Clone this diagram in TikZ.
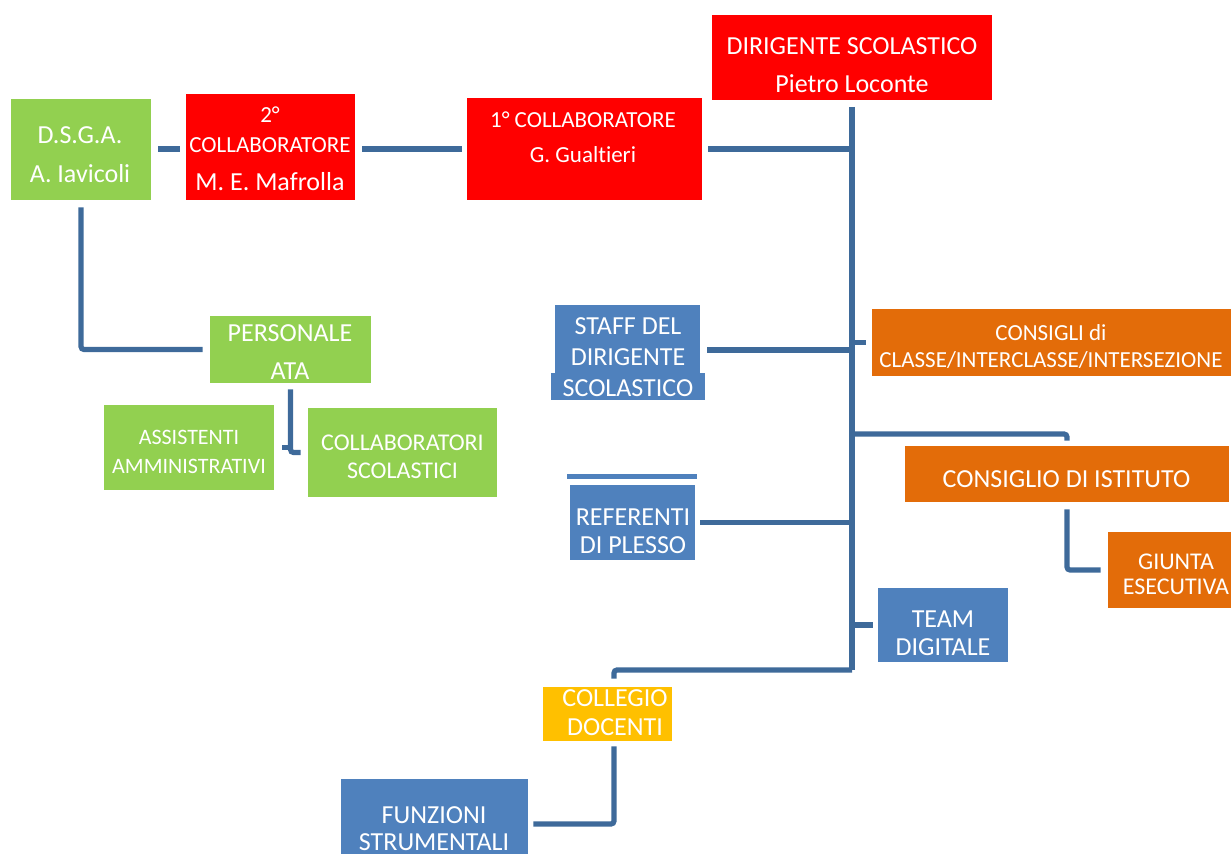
\documentclass[tikz,border=0pt]{standalone}
\usepackage{fontspec}
\setmainfont[Ligatures=NoCommon]{Carlito}
\usetikzlibrary{positioning,calc}
\definecolor{dsred}{HTML}{FF0000}
\definecolor{dsgreen}{HTML}{92D050}
\definecolor{dsblue}{HTML}{4F81BD}
\definecolor{dsorange}{HTML}{E36C09}
\definecolor{dsyellow}{HTML}{FFC000}
\definecolor{linkblue}{HTML}{3E6A9A}

\begin{document}
\begin{tikzpicture}[
  x=0.5pt, y=-0.5pt,
  box/.style={rectangle, inner sep=0pt},
  txt/.style={text=white, align=center, inner sep=0pt},
  big/.style={font=\fontsize{13}{#1}\selectfont},
  small/.style={font=\fontsize{11.5}{#1}\selectfont},
  link/.style={draw=linkblue, line width=2.6pt, rounded corners=1.5pt}
]
\useasboundingbox (0,0) rectangle (1231,854);

% ---------- Top row ----------
\node[box, fill=dsred, minimum width=140pt, minimum height=42.5pt] (dir) at (852,57.5) {};
\node[txt, big=19pt] (dirT) at (852,65) {DIRIGENTE SCOLASTICO\\Pietro Loconte};

\node[box, fill=dsred, minimum width=117.5pt, minimum height=51pt] (col1) at (584.5,149) {};
\node[txt, small=17.5pt] (col1T) at (583,137.5) {1° COLLABORATORE\\G. Gualtieri};

\node[box, fill=dsred, minimum width=84.5pt, minimum height=53pt] (col2) at (270.5,147) {};
\node[txt, small=15pt] (col2T) at (270,149) {2°\\COLLABORATORE\\[4pt]{\fontsize{13}{19}\selectfont M. E. Mafrolla}};

\node[box, fill=dsgreen, minimum width=70pt, minimum height=50.5pt] (dsga) at (81,149.5) {};
\node[txt, big=19.5pt] (dsgaT) at (80,154.5) {D.S.G.A.\\A. Iavicoli};

% ---------- ATA ----------
\node[box, fill=dsgreen, minimum width=80.5pt, minimum height=33.5pt] (ata) at (290.5,349.5) {};
\node[txt, big=19pt] (ataT) at (290,352) {PERSONALE\\ATA};

\node[box, fill=dsgreen, minimum width=85pt, minimum height=42.5pt] (ass) at (189,447.5) {};
\node[txt, font=\fontsize{11}{14.5}\selectfont] (assT) at (189,451.5) {ASSISTENTI\\AMMINISTRATIVI};

\node[box, fill=dsgreen, minimum width=94.5pt, minimum height=44.5pt] (cols) at (402.5,452.5) {};
\node[txt, font=\fontsize{12}{14}\selectfont] (colsT) at (402.5,457) {COLLABORATORI\\SCOLASTICI};

% ---------- Staff, referenti, team ----------
\node[box, fill=dsblue, minimum width=72.5pt, minimum height=37.5pt] (staff) at (627.5,342.5) {};
\node[box, fill=dsblue, minimum width=77pt, minimum height=13.5pt] (staffB) at (628,386.5) {};
\node[txt, big=15.5pt] (staffT) at (628,357) {STAFF DEL\\DIRIGENTE\\SCOLASTICO};

\node[box, fill=dsblue, minimum width=65pt, minimum height=2.6pt] (refBar) at (632,476.5) {};
\node[box, fill=dsblue, minimum width=62.5pt, minimum height=37.5pt] (ref) at (632.5,522.5) {};
\node[txt, big=14pt] (refT) at (633,531) {REFERENTI\\DI PLESSO};

\node[box, fill=dsblue, minimum width=65pt, minimum height=37pt] (team) at (943,625) {};
\node[txt, big=14pt] (teamT) at (943,633) {TEAM\\DIGITALE};

% ---------- Organi collegiali ----------
\node[box, fill=dsorange, minimum width=184pt, minimum height=33.5pt] (cons) at (1056,342.5) {};
\node[txt, small=13.5pt] (consT) at (1051,346.5) {CONSIGLI di\\CLASSE/INTERCLASSE/INTERSEZIONE};

\node[box, fill=dsorange, minimum width=162pt, minimum height=28pt] (ist) at (1067,474) {};
\node[txt, big=15pt] (istT) at (1066.5,479) {CONSIGLIO DI ISTITUTO};

\node[box, fill=dsorange, minimum width=66pt, minimum height=38pt] (giunta) at (1174,570) {};
\node[txt, font=\fontsize{12}{12.5}\selectfont] (giuntaT) at (1176,574.5) {GIUNTA\\ESECUTIVA};

\node[box, fill=dsyellow, minimum width=64.5pt, minimum height=27pt] (coll) at (607.5,714) {};
\node[txt, big=14.5pt] (collT) at (615,712.5) {COLLEGIO\\DOCENTI};

\node[box, fill=dsblue, minimum width=93.5pt, minimum height=40.5pt] (fun) at (434.5,819.5) {};
\node[txt, big=13.5pt] (funT) at (434,828.5) {FUNZIONI\\STRUMENTALI};

% ---------- Connectors ----------
\coordinate (trunkTop) at (852,107);
\coordinate (trunkBot) at (852,670);
\coordinate (istHook) at (1068,434);
\draw[link] (trunkTop) -- (trunkBot);
\draw[link] ([xshift=3pt]col1.east) -- (col1.east -| trunkTop);
\draw[link] ($(col2.east |- col1.west)+(7,0)$) -- ([xshift=-2.5pt]col1.west);
\draw[link] ($(dsga.east |- col1.west)+(7,0)$) -- ($(col2.west |- col1.west)+(-6,0)$);
\draw[link] ([yshift=-3.5pt]dsga.south) |- ([xshift=-3.5pt]ata.west);
\draw[link] ([yshift=-3pt]ata.south) |- ([xshift=-3.5pt]cols.west);
\draw[link] ([xshift=4pt]ass.east) -- (ass.east -| ata.south);
\draw[link] ([xshift=3.5pt,yshift=-3.75pt]staff.east) -- ([yshift=-3.75pt]staff.east -| trunkTop);
\draw[link] (trunkTop |- cons.west) -- ([xshift=-3pt]cons.west);
\draw[link] (trunkTop |- istHook) -| ([yshift=2.5pt]ist.north);
\draw[link] ([yshift=-3.5pt]ist.south) |- ([xshift=-3.5pt]giunta.west);
\draw[link] ([xshift=2.5pt]ref.east) -- (ref.east -| trunkTop);
\draw[link] (team.west -| trunkTop) -- ([xshift=-2.5pt]team.west);
\draw[link] (trunkBot) -| ([xshift=3.25pt,yshift=4pt]coll.north);
\draw[link] ([xshift=3.25pt,yshift=-2.5pt]coll.south) |- ([xshift=2.5pt,yshift=-2.25pt]fun.east);

\end{tikzpicture}
\end{document}
